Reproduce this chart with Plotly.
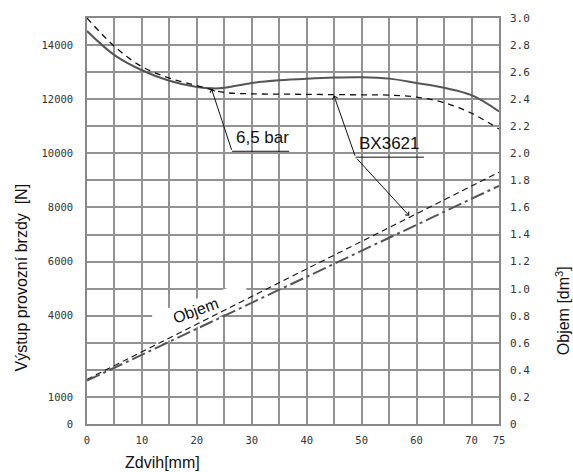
import plotly.graph_objects as go

# Stroke (mm)
stroke_solid = [0, 5, 10, 15, 20, 23, 25, 30, 35, 40, 45, 50, 55, 60, 65, 70, 75]
force_solid = [14520, 13630, 13070, 12680, 12450, 12400, 12420, 12600, 12700, 12760, 12800, 12810, 12760, 12600, 12420, 12150, 11550]

stroke_dash = [0, 5, 10, 15, 20, 25, 30, 40, 50, 55, 60, 65, 70, 75]
force_dash = [15000, 13950, 13200, 12780, 12500, 12250, 12200, 12180, 12160, 12150, 12080, 11870, 11480, 10900]

stroke_vol = [0, 75]
vol_dash = [0.33, 1.86]
vol_dashdot = [0.32, 1.76]

x_ticks = list(range(0, 80, 5))
x_labels = ["0", "", "10", "", "20", "", "30", "", "40", "", "50", "", "60", "", "70", "75"]
y_ticks = list(range(0, 16000, 1000))
y_labels = ["0", "1000", "", "", "4000", "", "6000", "", "8000", "", "10000", "", "12000", "", "14000", ""]
y2_ticks = [round(0.2 * i, 1) for i in range(16)]
y2_labels = ["0", "0.2", "0.4", "0.6", "0.8", "1.0", "1.2", "1.4", "1.6", "1.8", "2.0", "2.2", "2.4", "2.6", "2.8", "3.0"]

# callouts (data coords, force axis)
c1_tip = (22.66, 12385); c1_tail = (26.41, 10077); c1_end = 36.8
c2_tip1 = (44.94, 12140); c2_tip2 = (58.65, 7692); c2_tail = (48.89, 9858); c2_end = 61.33
# white label patch behind "Objem" (mm, N)
patch_x = [11.8, 28.7, 29.6, 12.7]
patch_y = [4073, 5239, 4510, 2869]

fig = go.Figure()
fig.add_trace(go.Scatter(x=stroke_solid, y=force_solid, mode="lines", line=dict(color="#555", width=2, shape="spline"), showlegend=False))
fig.add_trace(go.Scatter(x=stroke_dash, y=force_dash, mode="lines", line=dict(color="#111", width=1.3, dash="6px,5px", shape="spline"), showlegend=False))
fig.add_trace(go.Scatter(x=stroke_vol, y=vol_dash, mode="lines", yaxis="y2", line=dict(color="#111", width=1.1, dash="6px,4px"), showlegend=False))
fig.add_trace(go.Scatter(x=stroke_vol, y=vol_dashdot, mode="lines", yaxis="y2", line=dict(color="#555", width=2, dash="14px,4px,3px,4px"), showlegend=False))

tickfont = dict(family="DejaVu Sans Mono", size=10.5, color="#333")
grid = "#929292"
fig.update_layout(
    width=573, height=472,
    margin=dict(l=87, r=74, t=12, b=48),
    paper_bgcolor="white", plot_bgcolor="white",
    xaxis=dict(range=[0, 75], tickmode="array", tickvals=x_ticks, ticktext=x_labels,
               showgrid=True, gridcolor=grid, gridwidth=1.5, zeroline=False,
               showline=True, linecolor="#888", linewidth=1.5, mirror=True,
               ticks="", ticklabelstandoff=6, tickfont=tickfont),
    yaxis=dict(range=[0, 15000], tickmode="array", tickvals=y_ticks, ticktext=y_labels,
               showgrid=True, gridcolor=grid, gridwidth=1.5, zeroline=False,
               showline=True, linecolor="#888", linewidth=1.5, mirror=True,
               ticks="", ticklabelstandoff=10, tickfont=tickfont),
    yaxis2=dict(range=[0, 3.0], overlaying="y", side="right", tickmode="array",
                tickvals=y2_ticks, ticktext=y2_labels, showgrid=False, zeroline=False,
                ticks="", ticklabelstandoff=10,
                tickfont=dict(family="DejaVu Sans Mono", size=11, color="#333")),
)

title_font = dict(family="Liberation Sans, Arial", size=16, color="#111")
ann_font = dict(family="Liberation Sans, Arial", size=17, color="#111")
fig.add_annotation(text="Zdvih[mm]", xref="paper", yref="paper", x=0.184, y=-0.0955,
                   xanchor="center", yanchor="middle", showarrow=False, font=title_font)
fig.add_annotation(text="Výstup provozní brzdy  [N]", xref="paper", yref="paper", x=-0.160, y=0.361,
                   xanchor="center", yanchor="middle", textangle=-90, showarrow=False, font=title_font)
fig.add_annotation(text="Objem [dm<sup>3</sup>]", xref="paper", yref="paper", x=1.155, y=0.28,
                   xanchor="center", yanchor="middle", textangle=-90, showarrow=False, font=title_font)

# callout 1
fig.add_annotation(x=c1_tip[0], y=c1_tip[1], ax=c1_tail[0], ay=c1_tail[1], axref="x", ayref="y", text="",
                   showarrow=True, arrowhead=4, arrowsize=1, arrowwidth=1, arrowcolor="#111")
fig.add_shape(type="line", x0=c1_tail[0], y0=c1_tail[1], x1=c1_end, y1=c1_tail[1], line=dict(color="#111", width=1))
fig.add_annotation(text="6,5 bar", x=c1_tail[0] + 0.3, y=c1_tail[1] + 80, xanchor="left", yanchor="bottom", showarrow=False, font=ann_font)

# callout 2
for tip in (c2_tip1, c2_tip2):
    fig.add_annotation(x=tip[0], y=tip[1], ax=c2_tail[0], ay=c2_tail[1], axref="x", ayref="y", text="",
                       showarrow=True, arrowhead=4, arrowsize=1, arrowwidth=1, arrowcolor="#111")
fig.add_shape(type="line", x0=c2_tail[0], y0=c2_tail[1], x1=c2_end, y1=c2_tail[1], line=dict(color="#111", width=1))
fig.add_annotation(text="BX3621", x=c2_tail[0] + 0.2, y=c2_tail[1] + 80, xanchor="left", yanchor="bottom", showarrow=False, font=ann_font)

# Objem label: white patch between grid and traces, then text
path = "M " + " L ".join(f"{px},{py}" for px, py in zip(patch_x, patch_y)) + " Z"
fig.add_shape(type="path", path=path, xref="x", yref="y", layer="between",
              fillcolor="white", line=dict(width=0))
fig.add_annotation(text="Objem", x=19.8, y=4200, textangle=-20, showarrow=False,
                   font=dict(family="Liberation Sans, Arial", size=16, color="#111"))

fig.write_html("out.html", config={"displayModeBar": False},
               post_script="document.body.style.margin='0px';document.body.style.padding='0px';")
